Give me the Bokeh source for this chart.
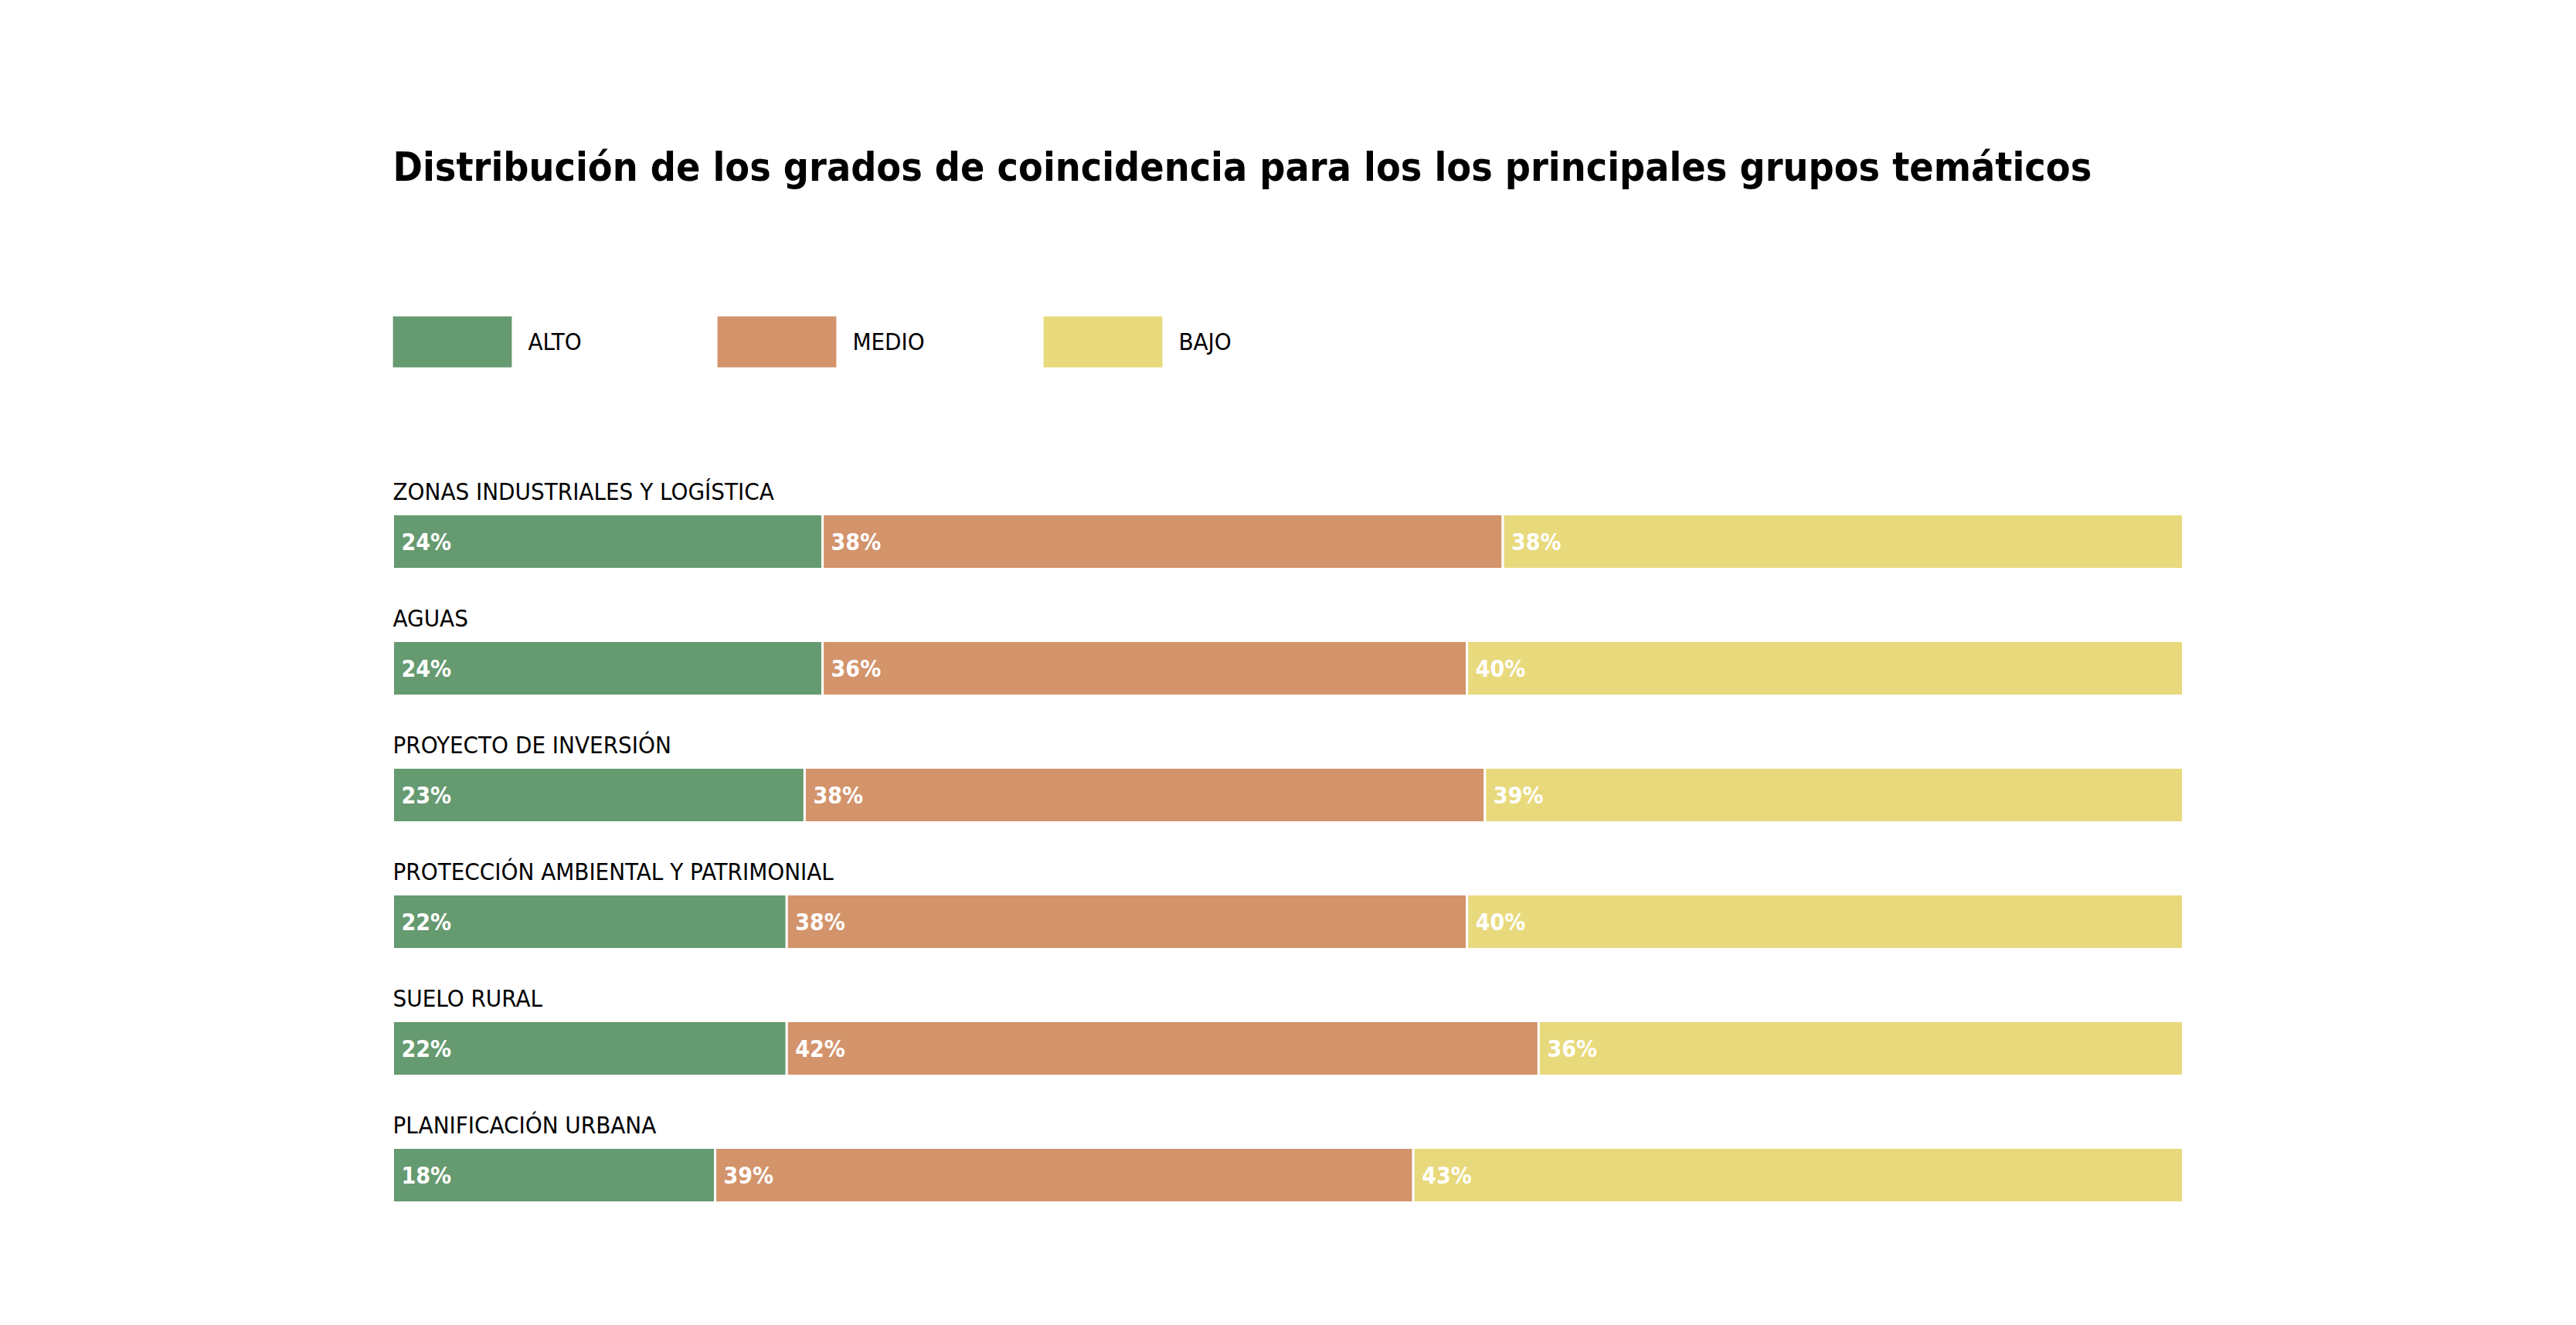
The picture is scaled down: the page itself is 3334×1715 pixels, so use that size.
from bokeh.plotting import figure
from bokeh.models import ColumnDataSource, Range1d, Label, Legend, LegendItem
from bokeh.core.properties import value
from bokeh.embed import file_html
from bokeh.resources import INLINE

# ---- data ----
categories = ["ZONAS INDUSTRIALES Y LOGÍSTICA", "AGUAS", "PROYECTO DE INVERSIÓN",
              "PROTECCIÓN AMBIENTAL Y PATRIMONIAL", "SUELO RURAL", "PLANIFICACIÓN URBANA"]
alto = [24, 24, 23, 22, 22, 18]
medio = [38, 36, 38, 38, 42, 39]
bajo = [38, 40, 39, 40, 36, 43]
series = ["ALTO", "MEDIO", "BAJO"]
colors = ["#669A70", "#D3936B", "#E8D97C"]
title = "Distribución de los grados de coincidencia para los los principales grupos temáticos"

# ---- layout constants (canvas pixels) ----
W, H = 3318, 1699
X0, X1 = 508, 2825          # canvas x of 0% and 100%
PX = (X1 - X0) / 100.0
Y0, DY = 700.5, 164.0       # canvas y of first bar centre, row spacing
BAR_H = 71 / DY
NARROW = "'DejaVu Sans Condensed', 'Liberation Sans Narrow', 'Open Sans'"

rows = list(range(len(categories)))
src = ColumnDataSource(dict(row=rows, cat=categories, alto=alto, medio=medio, bajo=bajo))

p = figure(width=W, height=H, output_backend="svg", toolbar_location=None,
           x_range=Range1d(-X0 / PX, (W - X0) / PX),
           y_range=Range1d((H - Y0) / DY, -Y0 / DY),
           min_border=0, min_border_left=0, min_border_right=0,
           min_border_top=0, min_border_bottom=0)
p.axis.visible = False
p.grid.visible = False
p.outline_line_color = None
p.background_fill_color = "white"
p.border_fill_color = "white"

renderers = p.hbar_stack(["alto", "medio", "bajo"], y="row", height=BAR_H,
                         color=colors, line_color="white", line_width=3, source=src)

# label table
lab_x, lab_y, lab_t = [], [], []
for i in rows:
    left = 0
    for v in (alto[i], medio[i], bajo[i]):
        lab_x.append(left)
        lab_y.append(i)
        lab_t.append(f"{v}%")
        left += v
p.text(x=lab_x, y=lab_y, text=lab_t, x_offset=11, text_color="white",
       text_font=value(NARROW), text_font_style="bold", text_font_size="30px",
       text_baseline="middle", text_align="left")

# category labels above bars
p.text(x=[0] * len(rows), y=[r - 65 / DY for r in rows], text=categories,
       text_color="black", text_font=value(NARROW), text_font_size="31px",
       text_baseline="middle", text_align="left")

# title
p.add_layout(Label(x=X0, y=H - 215, x_units="screen", y_units="screen", text=title,
                   text_font=NARROW, text_font_style="bold", text_font_size="51.5px",
                   text_color="black", text_baseline="middle"))

# legends (one per item, placed individually); legend swatch is drawn at 80% of glyph box
GW, GH = 196, 69 / 0.8
swatch_x = [507, 927, 1349]
swatch_bottom = 476
for name, r, sx in zip(series, renderers, swatch_x):
    leg = Legend(items=[LegendItem(label=name, renderers=[r])],
                 location=(sx - 0.1 * GW, H - (swatch_bottom + 0.1 * GH)),
                 orientation="horizontal",
                 glyph_width=int(round(GW)), glyph_height=int(round(GH)),
                 label_standoff=0,
                 padding=0, margin=0, spacing=0,
                 border_line_color=None, background_fill_alpha=0,
                 label_text_font=NARROW, label_text_font_size="31px",
                 label_text_color="black", click_policy="none")
    p.add_layout(leg, "center")

open("out.html", "w").write(file_html(p, INLINE))
